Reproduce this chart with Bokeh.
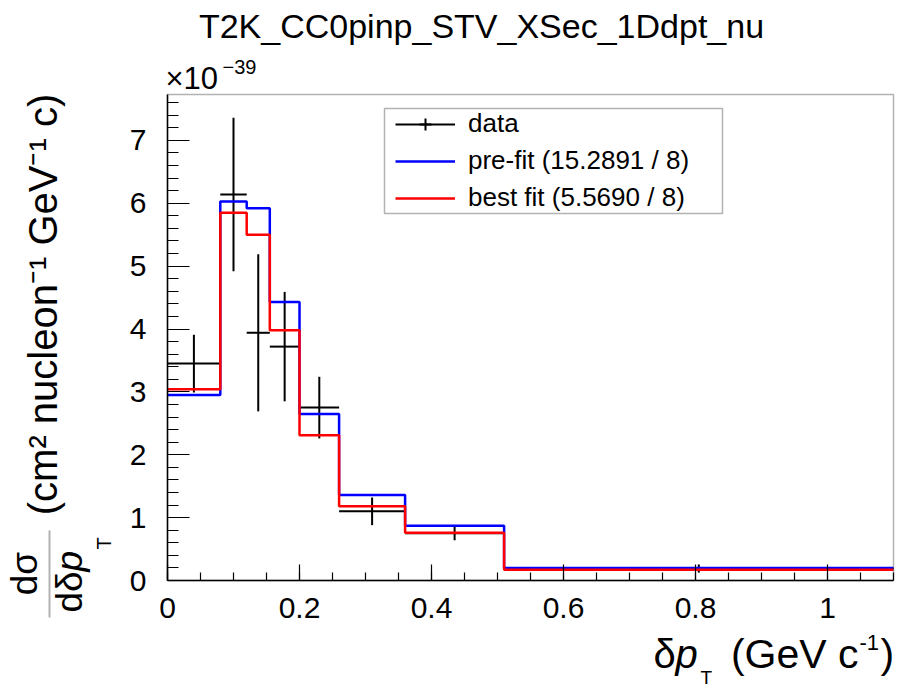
import math
from bokeh.plotting import figure
from bokeh.models import (Label, FixedTicker, CustomJSTickFormatter, Legend, LegendItem,
                          BoxAnnotation, PolyAnnotation, Range1d)
from bokeh.embed import file_html
from bokeh.resources import INLINE

# ---------------- data (cross-section in units of 1e-39 cm^2 nucleon^-1 GeV^-1 c) -------------
bin_edges = [0.0, 0.08, 0.12, 0.155, 0.2, 0.26, 0.36, 0.51, 1.1]
data_xsec = [3.45, 6.14, 3.94, 3.72, 2.75, 1.10, 0.75, 0.19]
data_err = [0.46, 1.22, 1.25, 0.87, 0.49, 0.22, 0.11, 0.065]
prefit_xsec = [2.95, 6.03, 5.92, 4.43, 2.65, 1.36, 0.87, 0.20]
bestfit_xsec = [3.04, 5.85, 5.50, 3.98, 2.31, 1.18, 0.76, 0.17]

x_ticks = [0.0, 0.2, 0.4, 0.6, 0.8, 1.0]
x_minor_ticks = [round(0.05 * i, 2) for i in range(23)]
y_ticks = [0, 1, 2, 3, 4, 5, 6, 7]
y_minor_ticks = [round(0.2 * i, 1) for i in range(39)]
x_lim = (0.0, 1.1)
y_lim = (0.0, 7.73)

title_text = "T2K_CC0pinp_STV_XSec_1Ddpt_nu"
legend_labels = ["data", "pre-fit (15.2891 / 8)", "best fit (5.5690 / 8)"]
y_unit_text = "(cm\u00b2 nucleon\u207b\u00b9 GeV\u207b\u00b9 c)"

FONT = "Liberation Sans"
W, H = 898, 689
# pixel box of the plotting area inside the canvas
FL, FR, FT, FB = 167, 893, 94, 580

# extend ranges so the axes area sits at FL..FR / FT..FB while the canvas has no clipping border
sx = (FR - FL) / (x_lim[1] - x_lim[0])
sy = (FB - FT) / (y_lim[1] - y_lim[0])
xr = Range1d(x_lim[0] - FL / sx, x_lim[1] + (W - FR) / sx)
yr = Range1d(y_lim[0] - (H - FB) / sy, y_lim[1] + FT / sy)

p = figure(width=W, height=H, output_backend="svg", toolbar_location=None,
           x_range=xr, y_range=yr, min_border=0)
p.title.visible = False
p.background_fill_color = "white"
p.border_fill_color = "white"
p.outline_line_color = None
p.xgrid.visible = False
p.ygrid.visible = False

for ax in (p.xaxis[0], p.yaxis[0]):
    ax.axis_line_color = "black"
    ax.axis_line_width = 1.5
    ax.major_tick_line_color = "black"
    ax.minor_tick_line_color = "black"
    ax.major_tick_line_width = 1.2
    ax.minor_tick_line_width = 1.2
    ax.major_tick_out = 0
    ax.minor_tick_out = 0
    ax.major_label_text_font = FONT
    ax.major_label_text_font_size = "30px"
    ax.major_label_text_color = "black"

p.xaxis.fixed_location = y_lim[0]
p.yaxis.fixed_location = x_lim[0]
p.xaxis.bounds = x_lim
p.yaxis.bounds = y_lim
p.xaxis.ticker = FixedTicker(ticks=x_ticks, minor_ticks=x_minor_ticks)
p.yaxis.ticker = FixedTicker(ticks=y_ticks, minor_ticks=y_minor_ticks)
p.xaxis.formatter = CustomJSTickFormatter(code="return String(Math.round(tick*10)/10);")
p.yaxis.formatter = CustomJSTickFormatter(code="return String(Math.round(tick));")
p.xaxis.major_tick_in = 16
p.xaxis.minor_tick_in = 8
p.yaxis.major_tick_in = 22
p.yaxis.minor_tick_in = 11
p.xaxis.major_label_standoff = 17
p.yaxis.major_label_standoff = 21

# frame of the plotting area
p.add_layout(BoxAnnotation(left=x_lim[0], right=x_lim[1], bottom=y_lim[0], top=y_lim[1],
                           fill_alpha=0, line_color="black", line_width=1.5, level="guide"))

# ---------------- data points ----------------
centers = [(a + b) / 2 for a, b in zip(bin_edges[:-1], bin_edges[1:])]
lo = [v - e for v, e in zip(data_xsec, data_err)]
hi = [v + e for v, e in zip(data_xsec, data_err)]
r_dh = p.segment(x0=bin_edges[:-1], x1=bin_edges[1:], y0=data_xsec, y1=data_xsec,
                 line_color="black", line_width=2)
r_dv = p.segment(x0=centers, x1=centers, y0=lo, y1=hi, line_color="black", line_width=2)
r_dm = p.scatter(x=centers, y=data_xsec, marker="cross", size=0, line_color="black", line_width=2)

# ---------------- histograms ----------------
r_pre = p.step(x=bin_edges, y=prefit_xsec + [prefit_xsec[-1]], mode="after",
               line_color="#0000ff", line_width=2.5)
r_best = p.step(x=bin_edges, y=bestfit_xsec + [bestfit_xsec[-1]], mode="after",
                line_color="#ff0000", line_width=2.5)

# ---------------- legend ----------------
legend = Legend(items=[LegendItem(label=legend_labels[0], renderers=[r_dh, r_dm]),
                       LegendItem(label=legend_labels[1], renderers=[r_pre]),
                       LegendItem(label=legend_labels[2], renderers=[r_best])],
                location=(395, H - 213), padding=0, margin=0, spacing=6,
                glyph_width=60, glyph_height=30, label_height=30, label_standoff=13,
                label_text_font=FONT, label_text_font_size="26px", label_text_color="black",
                border_line_alpha=0, background_fill_alpha=0)
p.add_layout(legend)

p.add_layout(BoxAnnotation(left=384, right=722, top=108, bottom=213,
                           left_units="canvas", right_units="canvas", top_units="canvas",
                           bottom_units="canvas", fill_alpha=0, line_color="black",
                           line_width=1.5, level="overlay"))


def lab(x, y_top, text, size, align="left", angle=0.0, style="normal"):
    # (x, y_top): canvas position of the visual centre line of the text
    p.add_layout(Label(x=x, y=y_top, x_units="canvas", y_units="canvas", text=text,
                       text_font=FONT, text_font_size=f"{size}px", text_color="black",
                       text_align=align, text_baseline="alphabetic", angle=angle,
                       text_font_style=style))


# title and exponent
lab(481, 25, title_text, 34, align="center")
lab(165, 78, "\u00d710", 31)
lab(222, 66, "\u221239", 20)

# x-axis title: δp_T (GeV c^-1)
lab(653, 653, "\u03b4", 40)
lab(675, 653, "p", 40, style="italic")
lab(700, 677, "T", 19)
lab(858, 653, "(GeV c", 41, align="right")
lab(859, 642, "-1", 22)
lab(880, 653, ")", 41)

# y-axis title (rotated)
A = math.pi / 2
lab(42, 304, y_unit_text, 40, align="center", angle=A)
# fraction d sigma / d delta p_T
lab(24, 573, "d\u03c3", 37, align="center", angle=A)
p.add_layout(PolyAnnotation(xs=[49, 49], ys=[530, 617], xs_units="canvas", ys_units="canvas",
                            fill_alpha=0, line_color="black", line_width=2))
lab(69, 612, "d\u03b4", 37, angle=A)
lab(69, 571, "p", 37, angle=A, style="italic")
lab(103.5, 549, "T", 20, angle=A)

open("out.html", "w").write(file_html(p, INLINE))
